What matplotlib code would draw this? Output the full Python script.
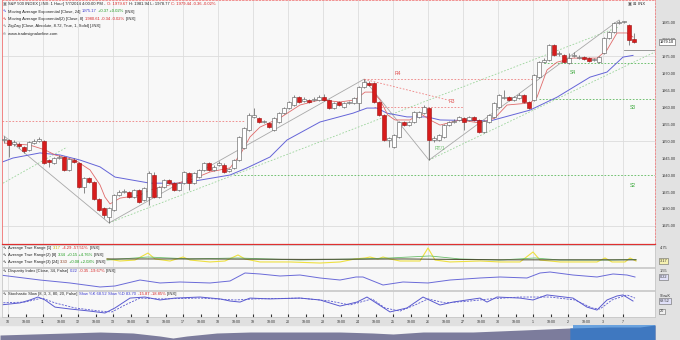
import matplotlib.pyplot as plt
from matplotlib.patches import Rectangle
import numpy as np

plt.rcParams['font.family'] = ['Liberation Sans', 'DejaVu Sans']

W, H = 680, 340

# hourly S&P 500 candles, 9 Jun - 7 Jul 2014
opens = [1950.3, 1950.3, 1949.1, 1949.1, 1948.2, 1947.4, 1949.4, 1950.0, 1950.0, 1944.4,
         1943.5, 1945.0, 1945.3, 1941.5, 1944.4, 1943.5, 1936.5, 1939.1, 1937.9, 1932.9,
         1930.3, 1927.6, 1929.7, 1934.1, 1935.0, 1935.0, 1933.5, 1935.6, 1932.6, 1933.5,
         1940.0, 1933.5, 1936.5, 1938.5, 1937.6, 1935.6, 1937.6, 1940.6, 1937.6, 1939.4,
         1941.5, 1943.5, 1941.5, 1942.9, 1942.9, 1941.2, 1942.1, 1944.4, 1947.9, 1953.2,
         1957.1, 1956.8, 1955.6, 1955.3, 1953.2, 1955.6, 1958.2, 1959.7, 1960.6, 1962.9,
         1961.8, 1962.1, 1962.1, 1962.1, 1962.9, 1962.1, 1959.7, 1961.5, 1960.0, 1961.2,
         1961.2, 1961.2, 1965.9, 1967.1, 1967.1, 1961.5, 1957.6, 1950.3, 1948.2, 1951.2,
         1955.6, 1954.7, 1955.6, 1957.1, 1958.2, 1959.7, 1950.3, 1950.3, 1951.2, 1954.7,
         1955.6, 1956.2, 1956.8, 1956.2, 1957.1, 1956.2, 1952.6, 1955.6, 1957.1, 1960.0,
         1962.6, 1962.9, 1962.1, 1962.6, 1963.5, 1961.5, 1962.1, 1968.8, 1973.2, 1973.8,
         1978.2, 1975.6, 1975.3, 1972.9, 1975.0, 1974.4, 1974.7, 1974.4, 1973.8, 1973.2,
         1975.9, 1980.3, 1982.1, 1984.7, 1985.0, 1984.1, 1980.0]
closes = [1950.4, 1948.8, 1949.7, 1948.5, 1947.1, 1949.7, 1950.0, 1950.6, 1943.5, 1943.8,
          1945.0, 1945.3, 1941.5, 1944.7, 1943.8, 1936.5, 1939.1, 1937.9, 1932.9, 1929.7,
          1928.2, 1930.3, 1934.1, 1935.0, 1935.3, 1933.5, 1935.6, 1932.1, 1936.2, 1940.6,
          1933.5, 1936.5, 1938.5, 1937.6, 1935.6, 1937.6, 1940.9, 1937.6, 1940.6, 1941.5,
          1943.5, 1941.5, 1942.4, 1943.5, 1940.9, 1941.8, 1944.4, 1951.2, 1953.8, 1957.6,
          1957.6, 1955.6, 1955.9, 1954.1, 1956.8, 1958.2, 1959.7, 1961.5, 1962.9, 1961.5,
          1962.4, 1961.5, 1962.4, 1962.9, 1962.1, 1959.7, 1961.2, 1960.6, 1961.2, 1961.5,
          1962.6, 1965.9, 1967.4, 1966.5, 1961.5, 1957.6, 1950.3, 1950.9, 1951.8, 1955.6,
          1954.7, 1955.6, 1958.5, 1958.5, 1960.0, 1950.3, 1950.9, 1951.8, 1954.7, 1955.6,
          1955.9, 1957.1, 1955.6, 1957.1, 1956.2, 1952.6, 1955.9, 1957.6, 1961.2, 1963.5,
          1962.9, 1962.1, 1962.9, 1963.5, 1961.5, 1959.7, 1969.4, 1973.2, 1973.8, 1978.2,
          1975.3, 1975.9, 1973.2, 1974.4, 1975.3, 1974.7, 1974.1, 1973.5, 1974.1, 1974.7,
          1980.3, 1982.1, 1984.7, 1985.0, 1985.0, 1979.7, 1979.1]
highs = [1951.5, 1950.6, 1950.3, 1949.7, 1948.5, 1950.0, 1950.6, 1951.2, 1950.3, 1944.7,
         1945.3, 1945.9, 1945.6, 1945.0, 1945.0, 1943.8, 1939.4, 1939.4, 1938.2, 1933.2,
         1930.6, 1930.6, 1934.4, 1935.6, 1935.9, 1935.3, 1935.9, 1935.9, 1936.5, 1941.2,
         1940.9, 1936.8, 1938.8, 1938.8, 1937.9, 1937.9, 1941.2, 1940.9, 1940.9, 1941.8,
         1943.8, 1943.8, 1942.9, 1944.1, 1943.5, 1942.1, 1944.7, 1951.5, 1954.1, 1958.2,
         1959.7, 1957.1, 1956.2, 1955.6, 1957.1, 1958.5, 1960.0, 1961.8, 1963.5, 1963.2,
         1962.9, 1962.4, 1962.9, 1963.5, 1963.8, 1962.4, 1961.5, 1961.8, 1961.5, 1961.8,
         1962.9, 1966.2, 1968.2, 1967.6, 1967.4, 1961.8, 1957.9, 1951.2, 1952.1, 1955.9,
         1955.9, 1955.9, 1958.8, 1958.8, 1960.6, 1960.0, 1951.5, 1952.1, 1955.0, 1955.9,
         1956.5, 1957.4, 1957.1, 1957.4, 1957.4, 1956.5, 1956.2, 1957.9, 1961.5, 1963.8,
         1965.0, 1963.2, 1963.2, 1964.1, 1963.8, 1961.8, 1969.7, 1973.5, 1974.4, 1978.5,
         1978.5, 1976.5, 1975.6, 1975.9, 1976.2, 1975.3, 1975.0, 1974.7, 1974.4, 1975.0,
         1980.6, 1982.4, 1985.0, 1985.6, 1985.3, 1984.4, 1981.8]
lows = [1949.4, 1945.3, 1948.5, 1948.0, 1946.5, 1947.0, 1949.1, 1949.7, 1943.2, 1942.4,
        1943.2, 1944.7, 1941.2, 1941.2, 1943.5, 1936.2, 1934.7, 1937.6, 1932.6, 1929.4,
        1927.4, 1925.9, 1929.4, 1933.8, 1934.7, 1933.2, 1933.2, 1931.8, 1932.3, 1931.2,
        1933.2, 1933.2, 1936.2, 1937.4, 1935.3, 1935.3, 1937.4, 1935.6, 1937.4, 1939.1,
        1941.2, 1941.2, 1941.2, 1942.6, 1940.6, 1940.9, 1941.8, 1944.1, 1947.6, 1952.9,
        1956.8, 1955.3, 1955.3, 1953.8, 1952.9, 1955.3, 1957.9, 1959.4, 1960.3, 1961.2,
        1961.5, 1961.2, 1961.8, 1961.8, 1961.8, 1959.4, 1959.4, 1960.3, 1959.7, 1960.9,
        1960.9, 1959.1, 1965.6, 1966.2, 1961.2, 1957.4, 1950.0, 1948.2, 1947.9, 1950.9,
        1954.4, 1954.4, 1955.3, 1956.8, 1957.9, 1944.4, 1949.7, 1950.0, 1950.9, 1954.4,
        1955.3, 1955.9, 1953.2, 1955.9, 1955.9, 1952.4, 1952.4, 1955.3, 1956.8, 1959.7,
        1962.4, 1961.8, 1961.8, 1962.4, 1961.2, 1959.4, 1961.8, 1968.5, 1972.9, 1973.5,
        1975.0, 1975.0, 1972.9, 1972.6, 1974.7, 1974.1, 1973.8, 1973.2, 1973.5, 1972.9,
        1975.6, 1980.0, 1981.8, 1984.4, 1984.7, 1978.2, 1978.8]

# EMA(24) / EMA(8) read at a few bars
ema24_bar = [-0.4, 1.8, 7.2, 11.2, 15.2, 19.2, 22.2, 29.2, 35.2, 39.2, 45.2, 48.6, 53.2, 56.6,
             63.2, 69.8, 72.6, 74.6, 76.6, 80.6, 84.6, 87.2, 97.2, 105.2, 110.6, 117.2, 120.6,
             123.8, 125.8]
ema24_val = [1943.8, 1945.0, 1946.5, 1945.9, 1944.4, 1942.4, 1939.4, 1937.6, 1937.6, 1938.5,
             1940.0, 1942.1, 1945.3, 1950.3, 1955.6, 1958.2, 1959.7, 1959.7, 1958.2, 1957.1,
             1957.1, 1956.2, 1955.9, 1959.1, 1962.9, 1968.8, 1970.3, 1974.7, 1975.2]
ema8_bar = [0.2, 5.2, 8.2, 10.2, 14.2, 17.2, 19.2, 20.2, 21.2, 23.2, 27.2, 29.2, 33.2, 37.2,
            41.2, 45.2, 47.2, 49.2, 51.2, 55.2, 59.2, 63.2, 67.2, 70.2, 72.2, 73.8, 75.2, 76.8,
            78.2, 81.2, 83.2, 85.2, 87.2, 91.2, 95.2, 98.2, 100.6, 105.2, 106.6, 108.6, 110.6,
            113.8, 118.6, 120.6, 122.6, 124.6, 125.8]
ema8_val = [1949.4, 1948.8, 1947.4, 1945.9, 1944.4, 1941.5, 1937.1, 1933.5, 1931.5, 1933.2,
            1934.1, 1935.6, 1937.1, 1938.5, 1940.9, 1942.1, 1945.9, 1951.2, 1954.1, 1956.8,
            1960.6, 1962.1, 1961.5, 1962.1, 1964.4, 1964.4, 1962.1, 1957.6, 1956.2, 1956.2,
            1958.2, 1956.2, 1954.7, 1956.2, 1955.3, 1956.8, 1960.6, 1961.2, 1962.9, 1970.9,
            1973.2, 1974.4, 1974.4, 1976.8, 1981.8, 1981.8, 1980.6]

# zigzag swing points
zz_bar = [0, 21, 72, 85, 123]
zz_val = [1951.5, 1925.9, 1968.2, 1944.4, 1985.6]

# resistance / support levels: value, first bar, last bar
res_names = ['R4', 'R3', '']
res_vals = [1968.2, 1960.0, 1955.9]
res_from = [72, 74, -0.4]
res_to = [106, 92, 48]
sup_names = ['S4', 'S3', 'S2']
sup_vals = [1972.9, 1962.35, 1940.0]
sup_from = [108, 107, 46]
sup_to = [130.2, 130.2, 130.2]

# trend lines (bar0, val0, bar1, val1)
trend_lines = [(21, 1925.9, 123, 1983.6), (-0.2, 1937.6, 12.6, 1948.2), (85, 1944.4, 130.2, 1976.2)]
res_slope = (72, 1968.2, 89, 1962.0)

# ATR panel
atr1_bar = [20.6, 23.2, 26.2, 28.8, 30.2, 33.2, 35.8, 37.2, 41.2, 44.2, 46.8, 48.2, 51.2, 57.2,
            63.2, 67.2, 70.2, 72.2, 73.2, 74.8, 75.8, 77.2, 79.2, 83.2, 84.8, 86.2, 89.2, 95.2,
            99.2, 103.2, 105.8, 107.2, 111.2, 115.2, 118.6, 120.2, 121.6, 124.2, 125.2, 126.4]
atr1_val = [3.40, 3.17, 3.28, 4.07, 3.40, 3.17, 3.62, 3.28, 3.06, 3.17, 3.85, 3.40, 3.06, 3.06,
            2.94, 3.06, 3.40, 3.51, 3.62, 3.40, 3.62, 3.40, 3.17, 3.17, 4.64, 3.28, 3.06, 3.17,
            3.06, 3.06, 4.19, 3.28, 3.06, 3.06, 3.06, 3.51, 3.06, 3.06, 3.51, 3.17]
atr2_bar = [20.6, 28.8, 37.2, 46.8, 59.2, 71.2, 77.2, 85.2, 91.2, 99.2, 106.2, 111.2, 121.2, 126.4]
atr2_val = [3.28, 3.62, 3.40, 3.51, 3.28, 3.40, 3.51, 3.74, 3.40, 3.28, 3.51, 3.28, 3.28, 3.34]
atr3_bar = [20.6, 40, 60, 80, 100, 126.4]
atr3_val = [3.40, 3.40, 3.35, 3.40, 3.30, 3.30]

# disparity index
disp_bar = [-0.8, 7.2, 13.2, 19.2, 22.2, 27.2, 31.2, 35.2, 41.2, 45.2, 48.2, 51.2, 55.2, 59.2,
            63.2, 67.2, 70.4, 71.8, 75.8, 79.8, 84.8, 89.2, 95.2, 99.2, 104.6, 107.2, 109.2,
            113.8, 118.6, 121.8, 124.6, 126.2]
disp_val = [0.66, -0.45, -1.11, -2.0, -1.78, -0.45, -1.11, -0.89, -1.11, -0.67, 1.11, 0.89, 0.44,
            0.66, 0.0, -0.45, 0.22, 0.22, -1.56, -0.89, -1.11, -0.45, 0.0, 0.22, 0.0, 1.11, 1.33,
            0.66, 0.22, 0.89, 0.66, 0.22]

# slow stochastic %K and %D
stk_x = [0, 20, 30, 38, 45, 55, 70, 90, 105, 115, 130, 145, 160, 175, 200, 220, 230, 240, 250,
         270, 300, 320, 340, 357, 367, 390, 407, 423, 440, 453, 467, 480, 487, 497, 520, 533,
         547, 573, 587, 597, 607, 617, 623, 633]
stk_val = [50, 60, 74, 88, 74, 40, 31, 21, 12, 36, 83, 88, 74, 83, 88, 79, 69, 64, 83, 79, 83,
           74, 45, 64, 88, 17, 36, 88, 50, 64, 74, 83, 64, 88, 83, 74, 98, 83, 40, 26, 74, 93,
           98, 69]
std_x = [0, 25, 42, 55, 75, 100, 112, 125, 140, 160, 200, 235, 255, 300, 330, 350, 372, 385,
         400, 415, 428, 445, 470, 490, 520, 550, 575, 592, 600, 612, 627, 635]
std_val = [60, 64, 83, 60, 36, 21, 17, 50, 83, 79, 83, 74, 79, 83, 69, 50, 79, 36, 21, 50, 79,
           60, 69, 79, 88, 88, 74, 36, 31, 74, 98, 83]

# sessions (bars per day) and their labels
day_labels = ['10', '11', '12', '13', '16', '17', '18', '19', '20', '23', '24', '25', '26',
              '27', '30', '1', '2', '3', '7']
day_bars = [7] * 17 + [4, 3]

# navigator (long history, percent of range / height)
nav_pos = [0, 5.0, 10.2, 15.3, 20.3, 24.4, 26.4, 28.5, 33.1, 38.2, 45.8, 51.9, 56.9, 60.0,
           64.6, 72.2, 79.8, 87.0, 92.7, 97.7, 100]
nav_lvl = [5, 6, 7, 8, 7, 4, 2, 4, 7, 8, 8, 8, 7, 6, 8, 8, 10, 12, 13, 13, 15]

o = np.array(opens); c = np.array(closes)
hi = np.array(highs); lo = np.array(lows)
x = np.arange(len(o))
stk_bar = (np.array(stk_x) - 4) / 5
std_bar = (np.array(std_x) - 4) / 5

starts = np.concatenate([[1], 1 + np.cumsum(day_bars)[:-1]])
tick_pos = list(starts - 0.2)
half_pos = [s + 3.4 for s, n in zip(starts, day_bars) if n >= 7]

fig = plt.figure(figsize=(W / 100, H / 100), dpi=100)
fig.patch.set_facecolor('#f3f3f3')

def fbox(x0, y0, x1, y1):
    return [x0 / W, 1 - y1 / H, (x1 - x0) / W, (y1 - y0) / H]

# gutters (behind the axes)
fig.patches.append(Rectangle((655 / W, 0), 25 / W, 1, transform=fig.transFigure,
                             color='#e2e2e2', zorder=-5))
fig.patches.append(Rectangle((0, 15 / H), 655 / W, 8 / H, transform=fig.transFigure,
                             color='#e0e0e0', zorder=-5))

XL = (-0.4, 130.2)
ax = fig.add_axes(fbox(2, 0, 655, 244))
ax_atr = fig.add_axes(fbox(2, 245, 655, 267), sharex=ax)
ax_dis = fig.add_axes(fbox(2, 268, 655, 290), sharex=ax)
ax_sto = fig.add_axes(fbox(2, 291, 655, 317), sharex=ax)

for a in (ax, ax_atr, ax_dis, ax_sto):
    a.set_facecolor('#f8f8f8')
    for t in tick_pos:
        a.axvline(t, color='#dddddd', lw=0.6, zorder=0)
    for s in a.spines.values():
        s.set_color('#c8c8c8')
        s.set_linewidth(0.6)
    a.tick_params(axis='x', which='both', length=0, labelbottom=False)
    a.yaxis.tick_right()
    a.tick_params(axis='y', length=0, labelsize=2.8, pad=5, colors='#333333')

ax.set_xlim(*XL)
ax.set_ylim(1919.7, 1991.5)
for lv in (1925, 1950, 1975):
    ax.axhline(lv, color='#dcdcdc', lw=0.6, zorder=0)
ax.set_yticks(np.arange(1925, 1986, 5))
ax.set_yticklabels([f'{v:.2f}' for v in np.arange(1925, 1986, 5)])
for s in ('top', 'right'):
    ax.spines[s].set_color('#f08080')
    ax.spines[s].set_linestyle((0, (2, 2)))
ax.spines['left'].set_color('#f07070')
ax.spines['bottom'].set_color('#e03030')
ax.spines['bottom'].set_linewidth(0.9)

# trend / zigzag
for b0, v0, b1, v1 in trend_lines:
    ax.plot([b0, b1], [v0, v1], color='#9ad49a', lw=0.6, ls=(0, (2, 2)), zorder=1)
ax.plot(zz_bar, zz_val, color='#a8a8a8', lw=0.6, zorder=1)
ax.plot(res_slope[::2], res_slope[1::2], color='#ee8080', lw=0.6, ls=(0, (2, 2)), zorder=1)
for n, v, b0, b1 in zip(res_names, res_vals, res_from, res_to):
    ax.plot([b0, b1], [v, v], color='#ee8080', lw=0.6, ls=(0, (2, 2)), zorder=1)
for n, v, b0, b1 in zip(sup_names, sup_vals, sup_from, sup_to):
    ax.plot([b0, b1], [v, v], color='#5cb85c', lw=0.6, ls=(0, (2, 2)), zorder=1)
lbl = dict(fontsize=3.6, ha='center', va='center')
ax.annotate('R4', (78.8, res_vals[0]), xytext=(0, 6), textcoords='offset pixels', color='#e05050', **lbl)
ax.annotate('R3', (89.6, res_vals[1]), xytext=(0, 6), textcoords='offset pixels', color='#e05050', **lbl)
ax.annotate('S4', (113.8, sup_vals[0]), xytext=(0, -9), textcoords='offset pixels', color='#3aa83a', **lbl)
ax.annotate('S3', (125.8, sup_vals[1]), xytext=(0, -8), textcoords='offset pixels', color='#3aa83a', **lbl)
ax.annotate('S2', (125.8, sup_vals[2]), xytext=(0, -10), textcoords='offset pixels', color='#3aa83a', **lbl)
ax.annotate('RT/1', (87.2, 1947.9), color='#6cc06c', **lbl)

ax.plot(ema24_bar, ema24_val, color='#6464d8', lw=0.7, zorder=2)
ax.plot(ema8_bar, ema8_val, color='#e06a6a', lw=0.6, zorder=2)

# candles
up = c >= o
ax.vlines(x, lo, hi, color='#5a5a5a', lw=0.5, zorder=3)
body = np.maximum(np.abs(c - o), 0.2)
ax.bar(x[up], body[up], bottom=np.minimum(o, c)[up], width=0.62, color='white',
       edgecolor='#555555', lw=0.4, zorder=4)
ax.bar(x[~up], body[~up], bottom=np.minimum(o, c)[~up], width=0.62, color='#d81c1c',
       edgecolor='#9a1010', lw=0.4, zorder=4)
ax.plot([124, 130.2], [1976.8, 1976.8], color='#8a8a8a', lw=0.6, zorder=2)
ax.annotate(f'{closes[-1]:.2f}', (1.0, closes[-1]), xycoords=('axes fraction', 'data'),
            xytext=(12, 0), textcoords='offset pixels', fontsize=2.8, va='center', ha='center',
            annotation_clip=False, zorder=10,
            bbox=dict(boxstyle='square,pad=0.2', fc='white', ec='#555555', lw=0.4))

# ATR
ax_atr.set_ylim(2.49, 4.98)
ax_atr.set_yticks([])
ax_atr.plot(atr1_bar, atr1_val, color='#eee040', lw=0.8)
ax_atr.plot(atr2_bar, atr2_val, color='#6cbf6c', lw=0.6)
ax_atr.plot(atr3_bar, atr3_val, color='#4a4a30', lw=0.7)

# disparity
ax_dis.set_ylim(-2.67, 2.22)
ax_dis.set_yticks([])
ax_dis.plot(disp_bar, disp_val, color='#6a6ad8', lw=0.7)

# stochastic
ax_sto.set_ylim(-7.1, 116.7)
ax_sto.set_yticks([])
ax_sto.plot(stk_bar, stk_val, color='#5a5ad0', lw=0.7)
ax_sto.plot(std_bar, std_val, color='#5a5ad0', lw=0.6, ls=(0, (2.5, 1.5)))
ax_sto.set_xticks(tick_pos + half_pos)
ax_sto.set_xticklabels(day_labels + ['18:00'] * len(half_pos))
ax_sto.tick_params(axis='x', labelbottom=True, labelsize=2.6, pad=2, length=2,
                   direction='in', colors='#333333')
ax_sto.set_xlim(*XL)

# right gutter labels for lower panels
def gut(a, val, s, fc=None):
    kw = dict(fontsize=2.8, va='center', ha='left', annotation_clip=False, color='#333333')
    if fc:
        kw['bbox'] = dict(boxstyle='square,pad=0.2', fc=fc, ec='#666666', lw=0.4)
    a.annotate(s, (1.0, val), xycoords=('axes fraction', 'data'), xytext=(5, 0),
               textcoords='offset pixels', **kw)

gut(ax_atr, 4.64, '4.75')
gut(ax_atr, atr1_val[-1], f'{atr1_val[-1]:.2f}', '#f5f0b0')
gut(ax_dis, 1.55, '1.55')
gut(ax_dis, disp_val[-1], f'{disp_val[-1]:.2f}', '#e0e0f8')
gut(ax_sto, 92, 'SlowK')
gut(ax_sto, stk_val[-1], '68.52', '#e0e0f8')
gut(ax_sto, 20, '20', '#f0f0f0')

# navigator
nav = fig.add_axes(fbox(0, 325, 655, 340))
nav.set_facecolor('#e8e8ec')
nav.fill_between(nav_pos, 0, nav_lvl, color='#7c7c9c', lw=0)
nav.axvspan(87.5, 100, color='#6aa2de', lw=0)
sel = np.array(nav_pos) >= 87.0
nav.fill_between(np.array(nav_pos)[sel], 0, np.array(nav_lvl)[sel], color='#3f78c0', lw=0)
nav.set_xlim(0, 100)
nav.set_ylim(0, 15)
nav.axis('off')

# legend text rows
rend = fig.canvas.get_renderer()

def rich(px, py, parts, size=3.0):
    for s, col in parts:
        t = fig.text(px / W, 1 - py / H, s, color=col, fontsize=size, va='center', ha='left')
        px += t.get_window_extent(rend).width + 1.5

K, R, G, B = '#222222', '#d62020', '#1a9a1a', '#3a3ad0'
rich(3, 4, [('\u25a3', '#777777'), ('S&P 500 INDEX [.INX: 1 Hour] 7/7/2014 4:00:00 PM -', K),
            ('O: 1979.67', R), ('H: 1981.94 L: 1978.77', K), ('C: 1979.44 -0.36 -0.02%', R)])
rich(3, 11.5, [('\u223f', B), ('Moving Average Exponential [Close, 24]', K), ('1975.17', B),
               ('+0.37 +0.02%', G), ('[.INX]', K)])
rich(3, 19, [('\u223f', R), ('Moving Average Exponential(2) [Close, 8]', K),
             ('1980.61 -0.34 -0.02%', R), ('[.INX]', K)])
rich(3, 26.5, [('\u223f', '#777777'), ('ZigZag [Close, Absolute, 8.72, True, 1, Solid] [.INX]', K)])
rich(3, 34, [('\u00a9', K), ('www.tradesignalonline.com', K)])
rich(3, 248, [('\u223f', K), ('Average True Range [1]', K), ('3.17', '#c8b800'),
              ('-4.29 -57.51%', R), ('[.INX]', K)])
rich(3, 255, [('\u223f', K), ('Average True Range(2) [8]', K), ('3.34', G),
              ('+0.15 +4.76%', G), ('[.INX]', K)])
rich(3, 262, [('\u223f', K), ('Average True Range(3) [24]', K), ('3.30', '#8a3a1a'),
              ('+0.08 +2.08%', G), ('[.INX]', K)])
rich(3, 271, [('\u223f', K), ('Disparity Index [Close, 34, False]', K), ('0.22', B),
              ('-0.35 -19.67%', R), ('[.INX]', K)])
rich(3, 294, [('\u223f', K), ('Stochastic Slow [8, 3, 3, 80, 20, False]', K),
              ('Slow %K 68.52', B), ('Slow %D 83.70', B), ('-15.87 -18.85%', R), ('[.INX]', K)])
rich(628, 4, [('\u25a3 \u22a0', '#555555'), ('.INX', K)])

fig.savefig('out.png', dpi=100, facecolor=fig.get_facecolor())
